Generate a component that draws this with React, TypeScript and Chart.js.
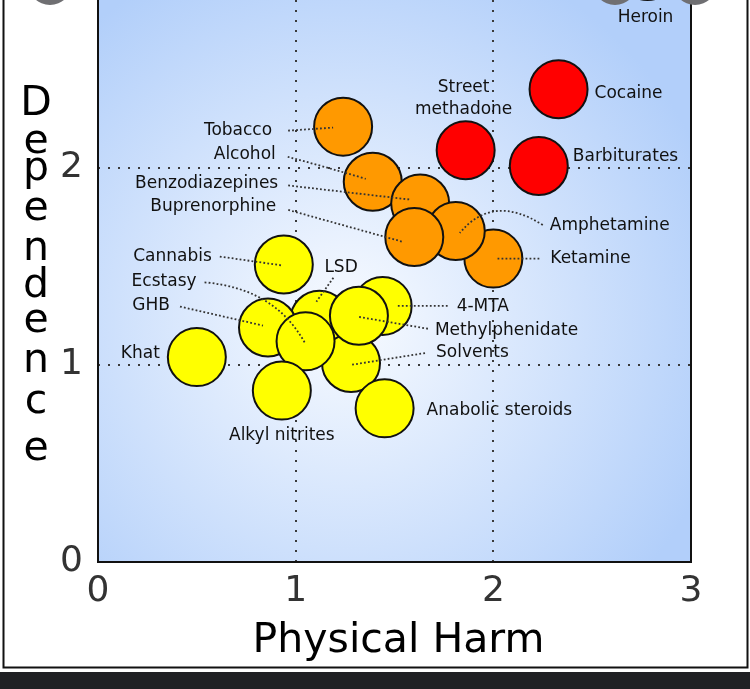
import React, { useEffect, useRef } from "react";
import { Chart, registerables } from "chart.js";

Chart.register(...registerables);

// ---- data ----
const drugs = [
  "Heroin", "Cocaine", "Barbiturates", "Street methadone",
  "Tobacco", "Alcohol", "Benzodiazepines", "Ketamine", "Amphetamine", "Buprenorphine",
  "Cannabis", "LSD", "GHB", "4-MTA", "Solvents", "Methylphenidate", "Ecstasy",
  "Khat", "Alkyl nitrites", "Anabolic steroids",
];
const physicalHarm = [
  2.78, 2.33, 2.23, 1.86,
  1.24, 1.39, 1.63, 2.0, 1.81, 1.6,
  0.94, 1.12, 0.86, 1.44, 1.28, 1.32, 1.05,
  0.5, 0.93, 1.45,
];
const dependence = [
  3.0, 2.4, 2.01, 2.09,
  2.21, 1.93, 1.82, 1.54, 1.68, 1.65,
  1.51, 1.23, 1.19, 1.3, 1.01, 1.25, 1.12,
  1.04, 0.87, 0.78,
];
const harmClass = [
  "high", "high", "high", "high",
  "mid", "mid", "mid", "mid", "mid", "mid",
  "low", "low", "low", "low", "low", "low", "low",
  "low", "low", "low",
];
const xTicks = [0, 1, 2, 3];
const yTicks = [0, 1, 2];
const xTitle = "Physical Harm";
const yTitle = "Dependence";

// ---- styles / layout (not data) ----
const classColor: Record<string, string> = { high: "#FF0000", mid: "#FF9900", low: "#FFFF00" };
const FONT = "'DejaVu Sans', 'Liberation Sans', sans-serif";

type Lbl = { dx: number; dy: number; align: CanvasTextAlign; lines?: string[]; leader?: number[] };
const labelLayout: Record<string, Lbl> = {
  "Heroin": { dx: -2, dy: 47, align: "center" },
  "Cocaine": { dx: 36, dy: 4, align: "left" },
  "Barbiturates": { dx: 34, dy: -9, align: "left" },
  "Street methadone": { dx: -2, dy: -63, align: "center", lines: ["Street", "methadone"] },
  "Tobacco": { dx: -71, dy: 4, align: "right", leader: [-55, 4, -10, 1] },
  "Alcohol": { dx: -97, dy: -27, align: "right", leader: [-85, -25, -48, -15, -7, -3] },
  "Benzodiazepines": { dx: -142, dy: -20, align: "right", leader: [-132, -18, -11, -4] },
  "Buprenorphine": { dx: -138, dy: -30, align: "right", leader: [-126, -27, -11, 5] },
  "Amphetamine": { dx: 94, dy: -5, align: "left", leader: [87, -6, 37, -38, 4, 2] },
  "Ketamine": { dx: 57, dy: 0, align: "left", leader: [46, 0, 3, 0] },
  "Cannabis": { dx: -72, dy: -8, align: "right", leader: [-64, -8, -1, 1] },
  "Ecstasy": { dx: -109, dy: -60, align: "right", leader: [-101, -59, -31, -53, -1, 1] },
  "GHB": { dx: -98, dy: -22, align: "right", leader: [-88, -21, -5, -2] },
  "LSD": { dx: 5, dy: -52, align: "left", leader: [14, -42, -3, -18] },
  "Khat": { dx: -37, dy: -4, align: "right" },
  "Alkyl nitrites": { dx: 0, dy: 45, align: "center" },
  "4-MTA": { dx: 74, dy: 1, align: "left", leader: [65, 0, 14, 0] },
  "Methylphenidate": { dx: 76, dy: 15, align: "left", leader: [69, 13, -1, 1] },
  "Solvents": { dx: 85, dy: -10, align: "left", leader: [74, -10, -1, 2] },
  "Anabolic steroids": { dx: 42, dy: 2, align: "left" },
};
const yTitleBaselines = [115, 153, 180, 220, 260, 297, 332, 372, 413, 460];

const decorPlugin = {
  id: "decor",
  beforeDraw(chart: any) {
    const { ctx, chartArea: a, width, height } = chart;
    ctx.save();
    ctx.fillStyle = "#ffffff";
    ctx.fillRect(0, 0, width, height);
    const cx = a.left + (a.right - a.left) * 0.42;
    const cy = a.top + (a.bottom - a.top) * 0.57;
    const g = ctx.createRadialGradient(cx, cy, 0, cx, cy, 390);
    g.addColorStop(0, "#F8FBFF");
    g.addColorStop(0.2, "#EAF2FE");
    g.addColorStop(1, "#B2CFFA");
    ctx.fillStyle = g;
    ctx.fillRect(a.left, a.top, a.right - a.left, a.bottom - a.top);
    ctx.restore();
  },
  afterDatasetsDraw(chart: any) {
    const { ctx } = chart;
    const xs = chart.scales.x;
    const ys = chart.scales.y;
    ctx.save();
    drugs.forEach((name, i) => {
      const L = labelLayout[name];
      if (!L) return;
      const px = xs.getPixelForValue(physicalHarm[i]);
      const py = ys.getPixelForValue(dependence[i]);
      if (L.leader) {
        const p = L.leader;
        ctx.beginPath();
        ctx.setLineDash([1.8, 2.2]);
        ctx.lineWidth = 1.8;
        ctx.strokeStyle = "#333333";
        ctx.moveTo(px + p[0], py + p[1]);
        if (p.length === 6) ctx.quadraticCurveTo(px + p[2], py + p[3], px + p[4], py + p[5]);
        else ctx.lineTo(px + p[2], py + p[3]);
        ctx.stroke();
        ctx.setLineDash([]);
      }
      ctx.fillStyle = "#111111";
      ctx.font = `17px ${FONT}`;
      ctx.textAlign = L.align;
      ctx.textBaseline = "middle";
      const lines = L.lines || [name];
      lines.forEach((t, k) => ctx.fillText(t, px + L.dx, py + L.dy + k * 22));
    });
    ctx.restore();
  },
  afterDraw(chart: any) {
    const { ctx, chartArea: a } = chart;
    ctx.save();
    // plot frame
    ctx.strokeStyle = "#111111";
    ctx.lineWidth = 2;
    ctx.beginPath();
    ctx.moveTo(a.left, a.top - 5);
    ctx.lineTo(a.left, a.bottom);
    ctx.lineTo(a.right, a.bottom);
    ctx.lineTo(a.right, a.top - 5);
    ctx.stroke();
    // axis titles
    ctx.fillStyle = "#000000";
    ctx.font = `41px ${FONT}`;
    ctx.textAlign = "center";
    ctx.textBaseline = "alphabetic";
    ctx.fillText(xTitle, (a.left + a.right) / 2 + 4, 652);
    yTitle.split("").forEach((ch, k) => ctx.fillText(ch, 36, yTitleBaselines[k]));
    // outer frame of the figure
    ctx.lineWidth = 2;
    ctx.strokeStyle = "#111111";
    ctx.beginPath();
    ctx.moveTo(3.5, -5);
    ctx.lineTo(3.5, 667.5);
    ctx.lineTo(747.5, 667.5);
    ctx.lineTo(747.5, -5);
    ctx.stroke();
    // dark strip at the bottom
    ctx.fillStyle = "#202124";
    ctx.fillRect(0, 672, chart.width, chart.height - 672);
    // overlay buttons cut by the top edge
    ctx.fillStyle = "#6f6f72";
    [[50, -17], [615, -17], [695, -17]].forEach(([x, y]) => {
      ctx.beginPath();
      ctx.arc(x, y, 22, 0, Math.PI * 2);
      ctx.fill();
    });
    ctx.restore();
  },
};

const zeroPad = (s: any) => {
  s.paddingTop = 0;
  s.paddingBottom = 0;
  s.paddingLeft = 0;
  s.paddingRight = 0;
};

export default function App() {
  const ref = useRef<HTMLCanvasElement | null>(null);
  useEffect(() => {
    document.body.style.margin = "0";
    const canvas = ref.current!;
    const points = drugs.map((_, i) => ({ x: physicalHarm[i], y: dependence[i] }));
    const isGrid = (c: any) => c.tick && (c.tick.value === 1 || c.tick.value === 2);
    const chart = new Chart(canvas, {
      type: "bubble",
      data: {
        datasets: [
          {
            label: "Drugs",
            data: points,
            radius: 29,
            backgroundColor: harmClass.map((c) => classColor[c]),
            borderColor: "#111111",
            borderWidth: 2,
          } as any,
        ],
      },
      options: {
        responsive: false,
        devicePixelRatio: 1,
        animation: false,
        events: [],
        layout: { autoPadding: false, padding: { left: 0, right: 59, top: 0, bottom: 0 } },
        plugins: { legend: { display: false }, tooltip: { enabled: false }, title: { display: false } },
        scales: {
          x: {
            type: "linear",
            min: 0,
            max: 3,
            afterFit: (s: any) => { s.height = 127; zeroPad(s); },
            afterBuildTicks: (s: any) => { s.ticks = xTicks.map((v) => ({ value: v })); },
            grid: { color: (c: any) => (isGrid(c) ? "#3a3a3a" : "rgba(0,0,0,0)"), lineWidth: 2, drawTicks: false },
            border: { display: false, dash: [2, 8] },
            ticks: { color: "#333333", font: { family: FONT, size: 36 }, padding: 8, maxRotation: 0, autoSkip: false },
          },
          y: {
            type: "linear",
            min: 0,
            max: 562 / 197,
            afterFit: (s: any) => { s.width = 98; zeroPad(s); },
            afterBuildTicks: (s: any) => { s.ticks = yTicks.map((v) => ({ value: v })); },
            grid: { color: (c: any) => (isGrid(c) ? "#3a3a3a" : "rgba(0,0,0,0)"), lineWidth: 2, drawTicks: false },
            border: { display: false, dash: [2, 8] },
            ticks: { color: "#333333", font: { family: FONT, size: 36 }, padding: 15, autoSkip: false },
          },
        },
      },
      plugins: [decorPlugin],
    });
    return () => chart.destroy();
  }, []);
  return (
    <div style={{ width: 750, height: 689 }}>
      <canvas ref={ref} width={750} height={689} style={{ display: "block" }} />
    </div>
  );
}
